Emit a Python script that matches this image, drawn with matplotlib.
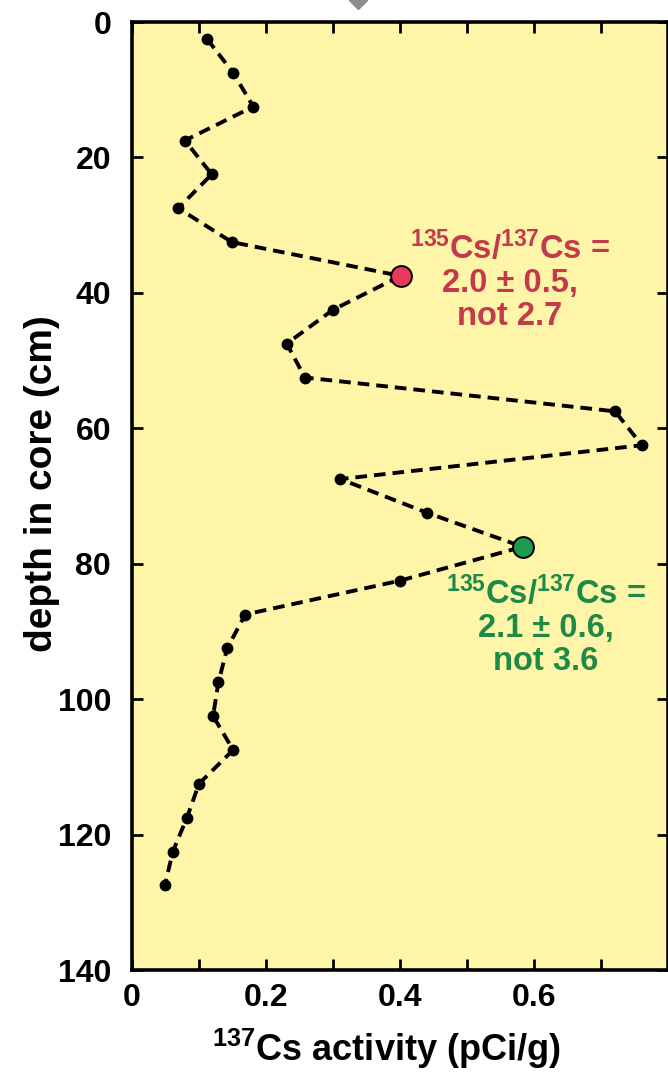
import matplotlib
matplotlib.use("Agg")
import matplotlib.pyplot as plt
from matplotlib.lines import Line2D

# data read from the core profile
depth = [2.5, 7.5, 12.5, 17.5, 22.5, 27.5, 32.5, 37.5, 42.5, 47.5, 52.5,
         57.5, 62.5, 67.5, 72.5, 77.5, 82.5, 87.5, 92.5, 97.5, 102.5,
         107.5, 112.5, 117.5, 122.5, 127.5]
activity = [0.112, 0.151, 0.181, 0.079, 0.119, 0.069, 0.149, 0.401, 0.300,
            0.231, 0.258, 0.721, 0.761, 0.311, 0.441, 0.583, 0.400, 0.169,
            0.142, 0.129, 0.121, 0.151, 0.100, 0.082, 0.061, 0.049]

red_point = (0.401, 37.5)
green_point = (0.583, 77.5)
red_text = "$^{135}$Cs/$^{137}$Cs =\n2.0 \u00b1 0.5,\nnot 2.7"
green_text = "$^{135}$Cs/$^{137}$Cs =\n2.1 \u00b1 0.6,\nnot 3.6"

xticks = [0, 0.2, 0.4, 0.6]
xtick_labels = ["0", "0.2", "0.4", "0.6"]
yticks = [0, 20, 40, 60, 80, 100, 120, 140]

plt.rcParams["font.family"] = ["Liberation Sans", "DejaVu Sans"]
plt.rcParams["font.weight"] = "bold"
plt.rcParams["mathtext.fontset"] = "custom"
plt.rcParams["mathtext.rm"] = "Liberation Sans:bold"
plt.rcParams["mathtext.it"] = "Liberation Sans:bold"
plt.rcParams["mathtext.bf"] = "Liberation Sans:bold"

fig = plt.figure(figsize=(6.68, 10.79), dpi=100)
ax = fig.add_axes([132 / 668, 109 / 1079, 536 / 668, 948 / 1079])
ax.set_facecolor("#fff5a8")

ax.plot(activity, depth, color="black", linestyle=(0, (3.0, 1.8)), linewidth=2.8,
        marker="o", markersize=7.5, zorder=2)
ax.plot(*red_point, marker="o", markersize=15, markerfacecolor="#e8385c",
        markeredgecolor="black", markeredgewidth=1.4, zorder=3)
ax.plot(*green_point, marker="o", markersize=15, markerfacecolor="#1e9a4e",
        markeredgecolor="black", markeredgewidth=1.4, zorder=3)

ax.text(0.564, 30.8, red_text, color="#c23a4c", fontsize=23.5, fontweight="bold",
        ha="center", va="top", linespacing=1.08)
ax.text(0.618, 81.8, green_text, color="#1e8a48", fontsize=23.5, fontweight="bold",
        ha="center", va="top", linespacing=1.08)

ax.set_xlim(0, 0.8)
ax.set_ylim(140, 0)
ax.set_xticks(xticks)
ax.set_xticklabels(xtick_labels)
ax.set_xticks([0.1, 0.3, 0.5, 0.7], minor=True)
ax.set_yticks(yticks)

ax.tick_params(axis="both", which="both", direction="in", length=8, width=2,
               top=True, right=True, labelsize=23)
ax.tick_params(axis="x", which="major", pad=9)
ax.tick_params(axis="y", which="major", pad=15)
for lab in ax.get_xticklabels() + ax.get_yticklabels():
    lab.set_fontweight("bold")
for sp in ax.spines.values():
    sp.set_linewidth(2.6)

ax.set_xlabel("$^{137}$Cs activity (pCi/g)", fontsize=26, fontweight="bold")
ax.xaxis.set_label_coords(0.474, -0.06)
ax.set_ylabel("depth in core (cm)", fontsize=28, fontweight="bold")
ax.yaxis.label.set_va("center")
ax.yaxis.set_label_coords(-0.168, 0.513)

# small grey mark cut off at the top edge
fig.add_artist(Line2D([358 / 668], [1.0], marker="D", markersize=9,
                      color="#8c8c8c", transform=fig.transFigure))

fig.savefig("out.png", dpi=100)
